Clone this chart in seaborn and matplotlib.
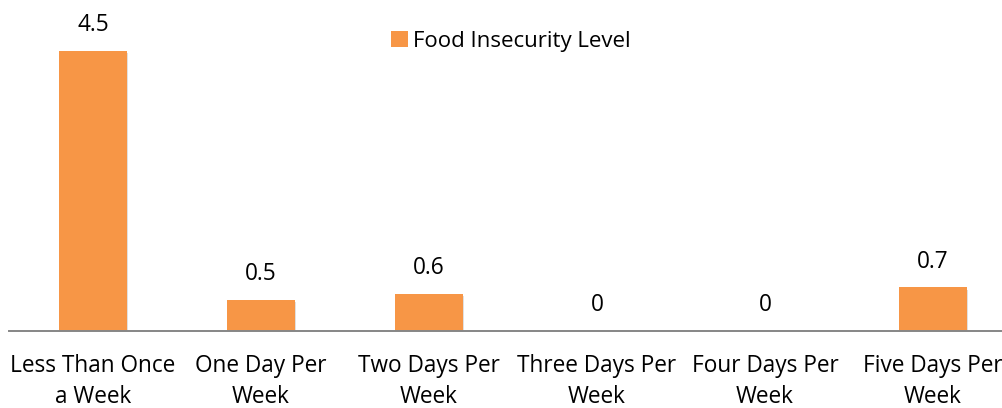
import matplotlib
matplotlib.use("Agg")
import matplotlib.pyplot as plt
import matplotlib.patheffects as pe
import seaborn as sns
import pandas as pd
from matplotlib.patches import Patch

categories = ["Less Than Once\na Week", "One Day Per\nWeek", "Two Days Per\nWeek",
              "Three Days Per\nWeek", "Four Days Per\nWeek", "Five Days Per\nWeek"]
values = [4.5, 0.5, 0.6, 0, 0, 0.7]
value_labels = ["4.5", "0.5", "0.6", "0", "0", "0.7"]
series_name = "Food Insecurity Level"

sns.set_theme(style="white")
plt.rcParams["font.family"] = ["Open Sans", "DejaVu Sans"]
plt.rcParams["text.color"] = "#000000"

bar_color = "#F79646"
W, H = 1003, 408
fig = plt.figure(figsize=(W / 100, H / 100), dpi=100)
# plot area runs slightly past the right edge of the canvas
left_px, right_px = 9, 1017
top_px, base_px = 20, 331
ax = fig.add_axes([left_px / W, 1 - base_px / H, (right_px - left_px) / W, (base_px - top_px) / H])

df = pd.DataFrame({"category": categories, "value": values})
sns.barplot(data=df, x="category", y="value", color=bar_color, width=0.4,
            saturation=1, ax=ax, edgecolor="none")

# soft drop shadow under each bar
for bar in ax.patches:
    bar.set_path_effects([
        pe.SimplePatchShadow(offset=(1, -1.5), shadow_rgbFace="#000000", alpha=0.12),
        pe.Normal(),
    ])

ax.set_xlim(-0.5, len(categories) - 0.5)
ax.set_ylim(0, 5)
ax.set_xlabel("")
ax.set_ylabel("")
ax.set_yticks([])
for s in ["top", "right", "left"]:
    ax.spines[s].set_visible(False)
ax.spines["bottom"].set_color("#868686")
ax.spines["bottom"].set_linewidth(1.4)
ax.spines["bottom"].set_zorder(3)
ax.tick_params(axis="x", length=0, pad=16.5, labelsize=16.3, labelcolor="#000000")
for t in ax.get_xticklabels():
    t.set_linespacing(1.4)

for i, (v, lab) in enumerate(zip(values, value_labels)):
    ax.annotate(lab, (i, v), xytext=(0, 18.5), textcoords="offset points",
                ha="center", va="center", fontsize=16.3, color="#000000")

handles = [Patch(facecolor=bar_color, edgecolor="none", label=series_name)]
fig.legend(handles=handles, loc="center left", bbox_to_anchor=(391 / W, 1 - 41 / H),
           frameon=False, fontsize=16, handlelength=0.75, handleheight=0.75,
           handletextpad=0.25, borderpad=0, borderaxespad=0)

fig.savefig("out.png", dpi=100)
